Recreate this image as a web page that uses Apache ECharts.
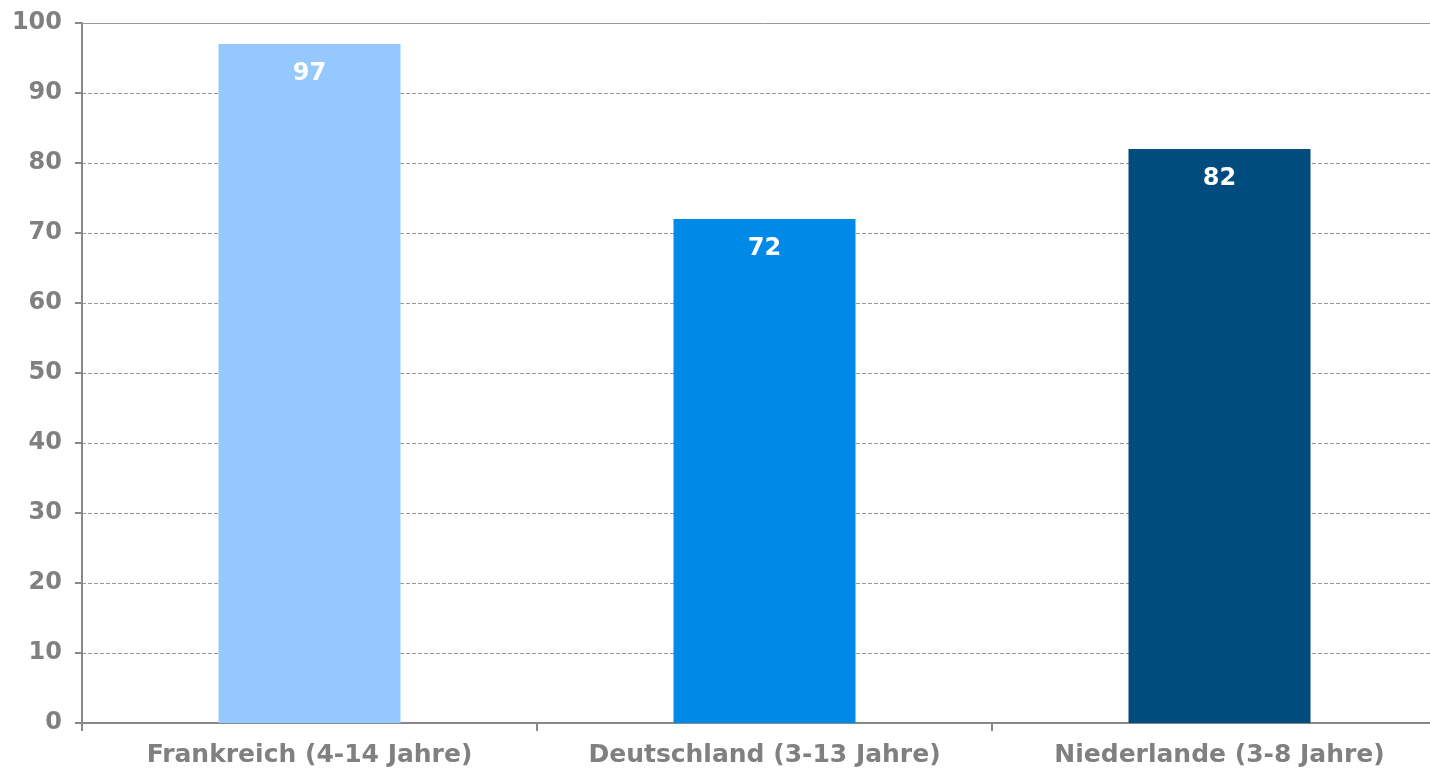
<!DOCTYPE html>
<html>
<head>
<meta charset="utf-8">
<script src="https://cdn.jsdelivr.net/npm/echarts@6/dist/echarts.min.js"></script>
<style>html,body{margin:0;padding:0;background:#fff;overflow:hidden}#c{width:1447px;height:769px}</style>
</head>
<body>
<div id="c"></div>
<script>
const categories = ['Frankreich (4-14 Jahre)', 'Deutschland (3-13 Jahre)', 'Niederlande (3-8 Jahre)'];
const values = [97, 72, 82];
const barColors = ['#94C8FF', '#008AE8', '#004C7E'];
const yTicks = {min: 0, max: 100, interval: 10};

const chart = echarts.init(document.getElementById('c'));
const font = '"DejaVu Sans", Verdana, sans-serif';
chart.setOption({
  animation: false,
  grid: {left: 82, right: 0, top: 23, bottom: 46},
  xAxis: [{
    type: 'category',
    data: categories,
    axisLine: {lineStyle: {color: '#888', width: 2}},
    axisTick: {show: true, interval: 0, length: 8, lineStyle: {color: '#888', width: 2}},
    axisLabel: {interval: 0, hideOverlap: false, color: '#808080', fontFamily: font, fontWeight: 'bold', fontSize: 25, margin: 20}
  }, {
    type: 'category',
    position: 'top',
    data: categories,
    axisLine: {show: true, lineStyle: {color: '#999', width: 1}},
    axisTick: {show: false},
    axisLabel: {show: false}
  }],
  yAxis: {
    type: 'value',
    min: yTicks.min, max: yTicks.max, interval: yTicks.interval,
    axisLine: {show: true, lineStyle: {color: '#888', width: 2}},
    axisTick: {show: true, length: 7, lineStyle: {color: '#888', width: 2}},
    axisLabel: {color: '#808080', fontFamily: font, fontWeight: 'bold', fontSize: 24, margin: 20},
    splitLine: {lineStyle: {color: '#999', type: [4, 2], width: 1}}
  },
  series: [{
    type: 'bar',
    xAxisIndex: 0,
    barWidth: '40%',
    data: values.map((v, i) => ({value: v, itemStyle: {color: barColors[i]}})),
    label: {show: true, position: 'insideTop', distance: 18, color: '#fff', fontFamily: font, fontWeight: 'bold', fontSize: 24}
  }]
});
</script>
</body>
</html>
